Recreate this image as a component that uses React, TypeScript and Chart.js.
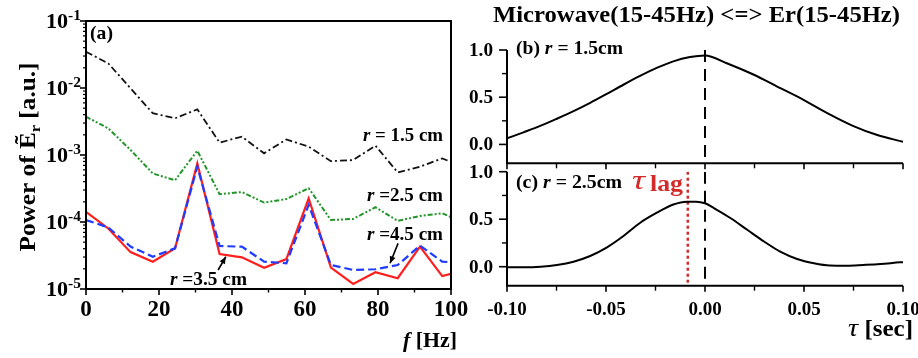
import React, { useEffect, useRef } from "react";
import { Chart, registerables } from "chart.js";
Chart.register(...registerables);

const W = 918;
const H = 358;

// ---------- Panel (a): power spectra of Er ----------
const freqHz = [0, 6.1, 12.2, 18.3, 24.4, 30.5, 36.6, 42.7, 48.8, 54.9, 61.0, 67.1, 73.2, 79.3, 85.4, 91.5, 97.6, 100];
const power15 = [0.0348, 0.0233, 0.0099, 0.0042, 0.00353, 0.0048, 0.00153, 0.00188, 0.00106, 0.00171, 0.00133, 0.00081, 0.00084, 0.00138, 0.00055, 0.00067, 0.00089, 0.00079];
const power25 = [0.00373, 0.0025, 0.00119, 0.00053, 0.00042, 0.00116, 0.00026, 0.00028, 0.000195, 0.00022, 0.00032, 0.000107, 0.000111, 0.000166, 0.000104, 0.000123, 0.000135, 0.000118];
const power35 = [1.42e-4, 8.0e-5, 3.55e-5, 2.56e-5, 4.05e-5, 7.5e-4, 3.33e-5, 2.97e-5, 2.08e-5, 2.8e-5, 2.26e-4, 2.08e-5, 1.19e-5, 1.78e-5, 1.45e-5, 4.29e-5, 1.56e-5, 1.68e-5];
const power45 = [1.07e-4, 8.3e-5, 4.3e-5, 3.03e-5, 4.05e-5, 6.7e-4, 4.38e-5, 4.28e-5, 2.56e-5, 2.42e-5, 1.8e-4, 2.28e-5, 1.92e-5, 1.97e-5, 2.28e-5, 4.44e-5, 2.56e-5, 2.51e-5];
const logTickExps = [-1, -2, -3, -4, -5];
const freqTicks = [0, 20, 40, 60, 80, 100];
const freqMinorTicks = [10, 30, 50, 70, 90];
// arrow annotations (tail -> tip) in data units
const arrow35 = { from: [36.2, 1.92e-5], to: [38.3, 3.03e-5] };
const arrow45 = { from: [85.5, 4.8e-5], to: [83.3, 2.42e-5] };

// ---------- Panels (b), (c): cross-correlation ----------
const tauB = [-0.1, -0.0917, -0.0832, -0.0748, -0.0664, -0.058, -0.0496, -0.0412, -0.0328, -0.0244, -0.016, -0.0076, 0, 0.011, 0.025, 0.036, 0.05, 0.062, 0.075, 0.087, 0.1];
const corrB = [0.064, 0.128, 0.196, 0.272, 0.352, 0.44, 0.535, 0.632, 0.725, 0.81, 0.88, 0.925, 0.942, 0.86, 0.735, 0.618, 0.47, 0.329, 0.194, 0.099, 0.028];
const tauC = [-0.1, -0.0916, -0.083, -0.0748, -0.0664, -0.058, -0.0495, -0.041, -0.0327, -0.0243, -0.016, -0.0092, -0.0045, 0, 0.0047, 0.013, 0.0215, 0.03, 0.038, 0.0465, 0.055, 0.063, 0.0716, 0.08, 0.0885, 0.0985, 0.1];
const corrC = [-0.006, -0.006, 0.0, 0.018, 0.053, 0.113, 0.204, 0.326, 0.463, 0.568, 0.655, 0.685, 0.685, 0.668, 0.615, 0.51, 0.386, 0.263, 0.158, 0.081, 0.036, 0.012, 0.01, 0.018, 0.028, 0.046, 0.048];
const tauTicks = [-0.1, -0.05, 0, 0.05, 0.1];
const tauTickLabels = ["-0.10", "-0.05", "0.00", "0.05", "0.10"];
const tauMinorTicks = [-0.075, -0.025, 0.025, 0.075];
const corrTicks = [0, 0.5, 1.0];
const corrTickLabels = ["0.0", "0.5", "1.0"];
const corrMinorTicks = [0.25, 0.75];
const tauZero = 0;
const tauLag = -0.0087;

// ---------- drawing helpers ----------
const FONT = '"Liberation Serif", "Times New Roman", serif';
type Seg = { t: string; size: number; italic?: boolean; normal?: boolean; color?: string; dy?: number };
const segFont = (s: Seg) => `${s.italic ? "italic " : ""}${s.normal ? "" : "bold "}${s.size}px ${FONT}`;

function drawRich(
  ctx: CanvasRenderingContext2D,
  segs: Seg[],
  x: number,
  y: number,
  align: "left" | "center" | "right" = "left",
  fit = 0,
  angle = 0,
  sx = 1
) {
  ctx.save();
  let total = 0;
  const widths = segs.map((s) => {
    ctx.font = segFont(s);
    const w = ctx.measureText(s.t).width;
    total += w;
    return w;
  });
  const scaleX = fit > 0 ? fit / total : sx;
  ctx.translate(x, y);
  if (angle) ctx.rotate(angle);
  ctx.scale(scaleX, 1);
  let cx = align === "left" ? 0 : align === "right" ? -total : -total / 2;
  ctx.textAlign = "left";
  ctx.textBaseline = "alphabetic";
  segs.forEach((s, i) => {
    ctx.font = segFont(s);
    ctx.fillStyle = s.color || "#000";
    ctx.fillText(s.t, cx, s.dy || 0);
    cx += widths[i];
  });
  ctx.restore();
}

function seg(ctx: CanvasRenderingContext2D, x1: number, y1: number, x2: number, y2: number, w = 2, color = "#000") {
  ctx.save();
  ctx.setLineDash([]);
  ctx.beginPath();
  ctx.moveTo(x1, y1);
  ctx.lineTo(x2, y2);
  ctx.lineWidth = w;
  ctx.strokeStyle = color;
  ctx.lineCap = "butt";
  ctx.stroke();
  ctx.restore();
}

function arrow(ctx: CanvasRenderingContext2D, x1: number, y1: number, x2: number, y2: number) {
  seg(ctx, x1, y1, x2, y2, 1.6);
  const ang = Math.atan2(y2 - y1, x2 - x1);
  const L = 7, Wd = 3;
  ctx.save();
  ctx.beginPath();
  ctx.moveTo(x2, y2);
  ctx.lineTo(x2 - L * Math.cos(ang) + Wd * Math.sin(ang), y2 - L * Math.sin(ang) - Wd * Math.cos(ang));
  ctx.lineTo(x2 - L * Math.cos(ang) - Wd * Math.sin(ang), y2 - L * Math.sin(ang) + Wd * Math.cos(ang));
  ctx.closePath();
  ctx.fillStyle = "#000";
  ctx.fill();
  ctx.restore();
}

const hiddenScale = {
  ticks: { display: false },
  grid: { display: false, drawTicks: false },
  border: { display: false },
  title: { display: false },
};

// ---------- plugins ----------
const decorA = {
  id: "decorA",
  afterDraw(chart: any) {
    const { ctx, chartArea: a, scales } = chart;
    const xs = scales.x, ys = scales.y;
    ctx.save();
    ctx.setLineDash([]);
    ctx.lineWidth = 2;
    ctx.strokeStyle = "#000";
    ctx.strokeRect(a.left, a.top, a.right - a.left, a.bottom - a.top);
    // log ticks
    logTickExps.forEach((e) => {
      const py = ys.getPixelForValue(Math.pow(10, e));
      seg(ctx, a.left - 6, py, a.left, py, 1.6);
      if (e > -5) {
        for (let m = 2; m <= 9; m++) {
          const pm = ys.getPixelForValue(m * Math.pow(10, e - 1));
          seg(ctx, a.left - 3, pm, a.left, pm, 1.2);
        }
      }
      drawRich(ctx, [{ t: "10", size: 20 }, { t: String(e), size: 14, dy: -8 }], 81, py + 7, "right", 35);
    });
    freqTicks.forEach((f) => {
      const px = xs.getPixelForValue(f);
      seg(ctx, px, a.bottom, px, a.bottom + 6, 1.6);
      drawRich(ctx, [{ t: String(f), size: 23 }], px, 316, "center");
    });
    freqMinorTicks.forEach((f) => {
      const px = xs.getPixelForValue(f);
      seg(ctx, px, a.bottom, px, a.bottom + 3.5, 1.4);
    });
    // arrows
    arrow(ctx, xs.getPixelForValue(arrow35.from[0]), ys.getPixelForValue(arrow35.from[1]), xs.getPixelForValue(arrow35.to[0]), ys.getPixelForValue(arrow35.to[1]));
    arrow(ctx, xs.getPixelForValue(arrow45.from[0]), ys.getPixelForValue(arrow45.from[1]), xs.getPixelForValue(arrow45.to[0]), ys.getPixelForValue(arrow45.to[1]));
    // labels
    drawRich(ctx, [{ t: "(a)", size: 19 }], 90, 39, "left", 23);
    drawRich(ctx, [{ t: "r", size: 19, italic: true }, { t: " = 1.5 cm", size: 19 }], 443, 141, "right", 80);
    drawRich(ctx, [{ t: "r", size: 19, italic: true }, { t: " =2.5 cm", size: 19 }], 443, 201, "right", 76);
    drawRich(ctx, [{ t: "r", size: 19, italic: true }, { t: " =4.5 cm", size: 19 }], 443, 240, "right", 76);
    drawRich(ctx, [{ t: "r", size: 19, italic: true }, { t: " =3.5 cm", size: 19 }], 170, 285, "left", 77);
    // axis titles
    drawRich(
      ctx,
      [
        { t: "Power of ", size: 23 },
        { t: "\u1EBC", size: 23 },
        { t: "r", size: 15, dy: 5 },
        { t: " [a.u.]", size: 23 },
      ],
      35,
      157,
      "center",
      189,
      -Math.PI / 2
    );
    drawRich(ctx, [{ t: "f", size: 22, italic: true }, { t: " [Hz]", size: 22 }], 403, 347, "left", 54);
    ctx.restore();
  },
};

function corrAxes(chart: any, withXLabels: boolean) {
  const { ctx, chartArea: a, scales } = chart;
  const xs = scales.x, ys = scales.y;
  seg(ctx, a.left, a.top, a.left, a.bottom, 2);
  seg(ctx, a.left - 1, a.bottom, a.right, a.bottom, 2);
  corrTicks.forEach((v, i) => {
    const py = ys.getPixelForValue(v);
    seg(ctx, a.left - 8, py, a.left, py, 1.6);
    drawRich(ctx, [{ t: corrTickLabels[i], size: 19 }], 493, py + 6, "right", 24);
  });
  corrMinorTicks.forEach((v) => {
    const py = ys.getPixelForValue(v);
    seg(ctx, a.left - 5, py, a.left, py, 1.4);
  });
  tauTicks.forEach((t, i) => {
    const px = xs.getPixelForValue(t);
    seg(ctx, px, a.bottom, px, a.bottom + 6, 1.6);
    if (withXLabels) drawRich(ctx, [{ t: tauTickLabels[i], size: 19 }], px, 315, "center");
  });
  tauMinorTicks.forEach((t) => {
    const px = xs.getPixelForValue(t);
    seg(ctx, px, a.bottom, px, a.bottom + 5, 1.4);
  });
}

const decorB = {
  id: "decorB",
  afterDraw(chart: any) {
    const { ctx } = chart;
    corrAxes(chart, false);
    drawRich(ctx, [{ t: "Microwave(15-45Hz) <=> Er(15-45Hz)", size: 24 }], 493, 22, "left", 407);
    drawRich(
      ctx,
      [{ t: "(b) ", size: 18 }, { t: "r", size: 18, italic: true }, { t: " = 1.5cm", size: 18 }],
      516,
      54,
      "left",
      107
    );
  },
};

const decorC = {
  id: "decorC",
  afterDraw(chart: any) {
    const { ctx } = chart;
    corrAxes(chart, true);
    drawRich(
      ctx,
      [{ t: "(c) ", size: 18 }, { t: "r", size: 18, italic: true }, { t: " = 2.5cm", size: 18 }],
      516,
      188,
      "left",
      106
    );
    drawRich(ctx, [{ t: "\u03C4", size: 27, italic: true, normal: true, color: "#d42a2a" }], 632, 189, "left", 13);
    drawRich(ctx, [{ t: "lag", size: 23, color: "#d42a2a" }], 650, 191, "left", 33);
    drawRich(ctx, [{ t: "\u03C4", size: 26, italic: true, normal: true }, { t: " [sec]", size: 23 }], 848, 336, "left", 65);
  },
};

// ---------- chart configs ----------
function configA(): any {
  const pts = (vals: number[]) => freqHz.map((f, i) => ({ x: f, y: vals[i] }));
  return {
    type: "line",
    data: {
      datasets: [
        { data: pts(power15), borderColor: "#111", borderWidth: 1.8, borderDash: [7, 3, 2, 3], pointRadius: 0, tension: 0 },
        { data: pts(power25), borderColor: "#23952a", borderWidth: 2, borderDash: [5, 2, 2, 2, 2, 2], pointRadius: 0, tension: 0 },
        { data: pts(power45), borderColor: "#1f3bff", borderWidth: 2.2, borderDash: [8, 4], pointRadius: 0, tension: 0 },
        { data: pts(power35), borderColor: "#ff1e1e", borderWidth: 2.2, pointRadius: 0, tension: 0 },
      ],
    },
    options: {
      responsive: false,
      animation: false,
      devicePixelRatio: 1,
      layout: { padding: { left: 86, top: 21, right: W - 451, bottom: H - 289 } },
      plugins: { legend: { display: false }, tooltip: { enabled: false } },
      scales: {
        x: { type: "linear", min: 0, max: 100, ...hiddenScale },
        y: { type: "logarithmic", min: 1e-5, max: 1e-1, ...hiddenScale },
      },
    },
    plugins: [decorA],
  };
}

function configCorr(tau: number[], corr: number[], top: number, bottom: number, withLag: boolean, plugin: any): any {
  const datasets: any[] = [
    {
      data: tau.map((t, i) => ({ x: t, y: corr[i] })),
      borderColor: "#000",
      borderWidth: 2,
      pointRadius: 0,
      cubicInterpolationMode: "monotone",
    },
    {
      data: [{ x: tauZero, y: 1.0 }, { x: tauZero, y: -0.2 }],
      borderColor: "#000",
      borderWidth: 2,
      borderDash: [12, 7],
      pointRadius: 0,
    },
  ];
  if (withLag) {
    datasets.push({
      data: [{ x: tauLag, y: 1.0 }, { x: tauLag, y: -0.2 }],
      borderColor: "#d42a2a",
      borderWidth: 2.5,
      borderDash: [3, 3],
      pointRadius: 0,
    });
  }
  return {
    type: "line",
    data: { datasets },
    options: {
      responsive: false,
      animation: false,
      devicePixelRatio: 1,
      layout: { padding: { left: 507, top, right: W - 903, bottom: H - bottom } },
      plugins: { legend: { display: false }, tooltip: { enabled: false } },
      scales: {
        x: { type: "linear", min: -0.1, max: 0.1, ...hiddenScale },
        y: { type: "linear", min: -0.2, max: 1.0, ...hiddenScale },
      },
    },
    plugins: [plugin],
  };
}

function ChartCanvas({ make }: { make: () => any }) {
  const ref = useRef<HTMLCanvasElement | null>(null);
  useEffect(() => {
    if (!ref.current) return;
    const chart = new Chart(ref.current, make());
    return () => chart.destroy();
  }, []);
  return (
    <canvas
      ref={ref}
      width={W}
      height={H}
      style={{ position: "absolute", left: 0, top: 0, width: W, height: H, pointerEvents: "none" }}
    />
  );
}

Chart.defaults.font.family = FONT;

export default function App() {
  return (
    <div style={{ position: "fixed", left: 0, top: 0, width: W, height: H, background: "#fff", overflow: "hidden" }}>
      <ChartCanvas make={configA} />
      <ChartCanvas make={() => configCorr(tauB, corrB, 50, 163.3, false, decorB)} />
      <ChartCanvas make={() => configCorr(tauC, corrC, 171.7, 285.7, true, decorC)} />
    </div>
  );
}
